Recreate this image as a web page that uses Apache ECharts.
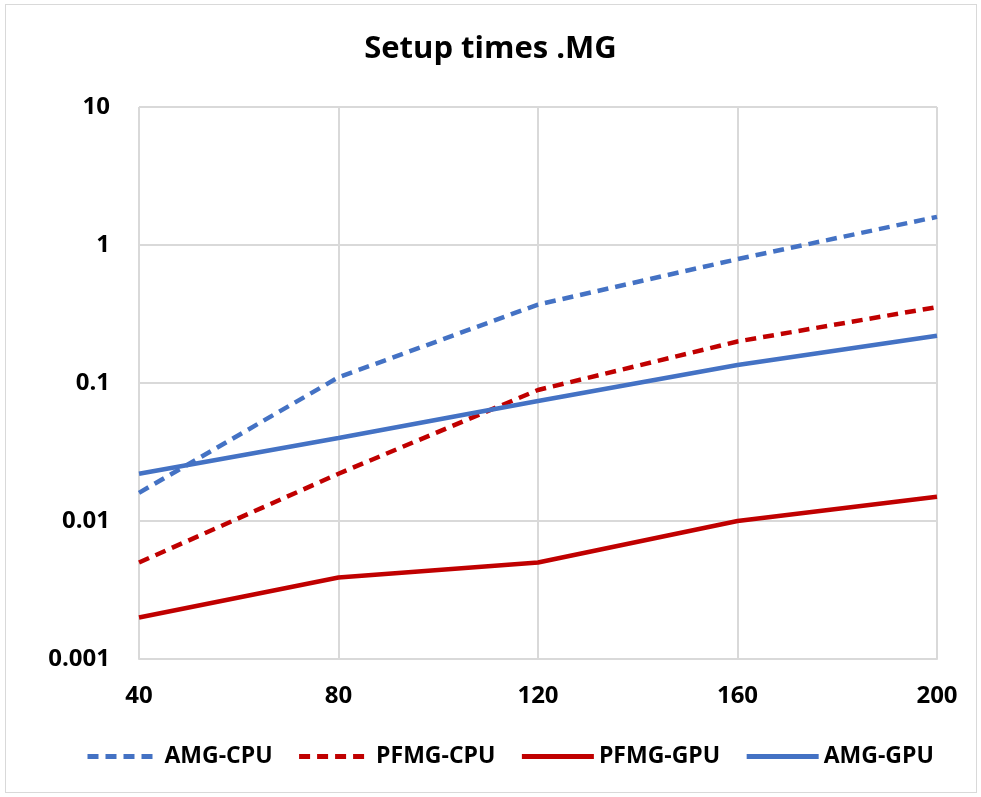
<!DOCTYPE html>
<html>
<head>
<meta charset="utf-8">
<script src="https://cdn.jsdelivr.net/npm/echarts@6/dist/echarts.min.js"></script>
<style>
  html, body { margin: 0; padding: 0; background: #fff; }
  #frame { position: absolute; left: 5px; top: 4px; width: 970px; height: 787px; border: 1px solid #d9d9d9; }
  #chart { position: absolute; left: 0; top: 0; width: 981px; height: 797px; }
</style>
</head>
<body>
<div id="frame"></div>
<div id="chart"></div>
<script>
const sizes = ['40', '80', '120', '160', '200'];
const amgCpu = [0.016, 0.11, 0.37, 0.79, 1.6];
const pfmgCpu = [0.005, 0.022, 0.089, 0.2, 0.355];
const pfmgGpu = [0.002, 0.0039, 0.005, 0.01, 0.015];
const amgGpu = [0.022, 0.04, 0.074, 0.135, 0.22];

const BLUE = '#4472C4';
const RED = '#C00000';
const FONT = '"Open Sans", "Noto Sans", sans-serif';

const chart = echarts.init(document.getElementById('chart'));

function line(name, data, color, dashed) {
  return {
    name, type: 'line', data,
    symbol: 'none',
    lineStyle: { color, width: 4.5, type: dashed ? [11, 7] : 'solid', cap: 'butt' },
    itemStyle: { color },
  };
}

chart.setOption({
  animation: false,
  title: {
    text: 'Setup times .MG',
    left: 'center', top: 29,
    textStyle: { fontFamily: FONT, fontSize: 31, fontWeight: 'bold', color: '#000' },
  },
  grid: { left: 139, right: 44, top: 107, bottom: 138 },
  legend: {
    top: 740,
    left: 80,
    itemWidth: 72, itemHeight: 14, itemGap: 24,
    itemStyle: { opacity: 0 },
    lineStyle: { width: 5 },
    textStyle: { fontFamily: FONT, fontSize: 23, fontWeight: 'bold', color: '#000' },
    data: ['AMG-CPU', 'PFMG-CPU', 'PFMG-GPU', 'AMG-GPU'],
  },
  xAxis: {
    type: 'category',
    data: sizes,
    boundaryGap: false,
    axisLine: { lineStyle: { color: '#d9d9d9', width: 2 } },
    axisTick: { show: false },
    splitLine: { show: true, lineStyle: { color: '#d9d9d9', width: 2 } },
    axisLabel: { margin: 25, fontFamily: FONT, fontSize: 24, fontWeight: 'bold', color: '#000' },
  },
  yAxis: {
    type: 'log',
    logBase: 10,
    min: 0.001, max: 10,
    axisLine: { show: false },
    axisTick: { show: false },
    splitLine: { lineStyle: { color: '#d9d9d9', width: 2 } },
    axisLabel: {
      margin: 29, fontFamily: FONT, fontSize: 24, fontWeight: 'bold', color: '#000',
      formatter: (v) => {
        const e = Math.round(Math.log10(v));
        return e >= 0 ? String(Math.pow(10, e)) : (Math.pow(10, e)).toFixed(-e);
      },
    },
  },
  series: [
    line('AMG-CPU', amgCpu, BLUE, true),
    line('PFMG-CPU', pfmgCpu, RED, true),
    line('PFMG-GPU', pfmgGpu, RED, false),
    line('AMG-GPU', amgGpu, BLUE, false),
  ],
});
</script>
</body>
</html>
